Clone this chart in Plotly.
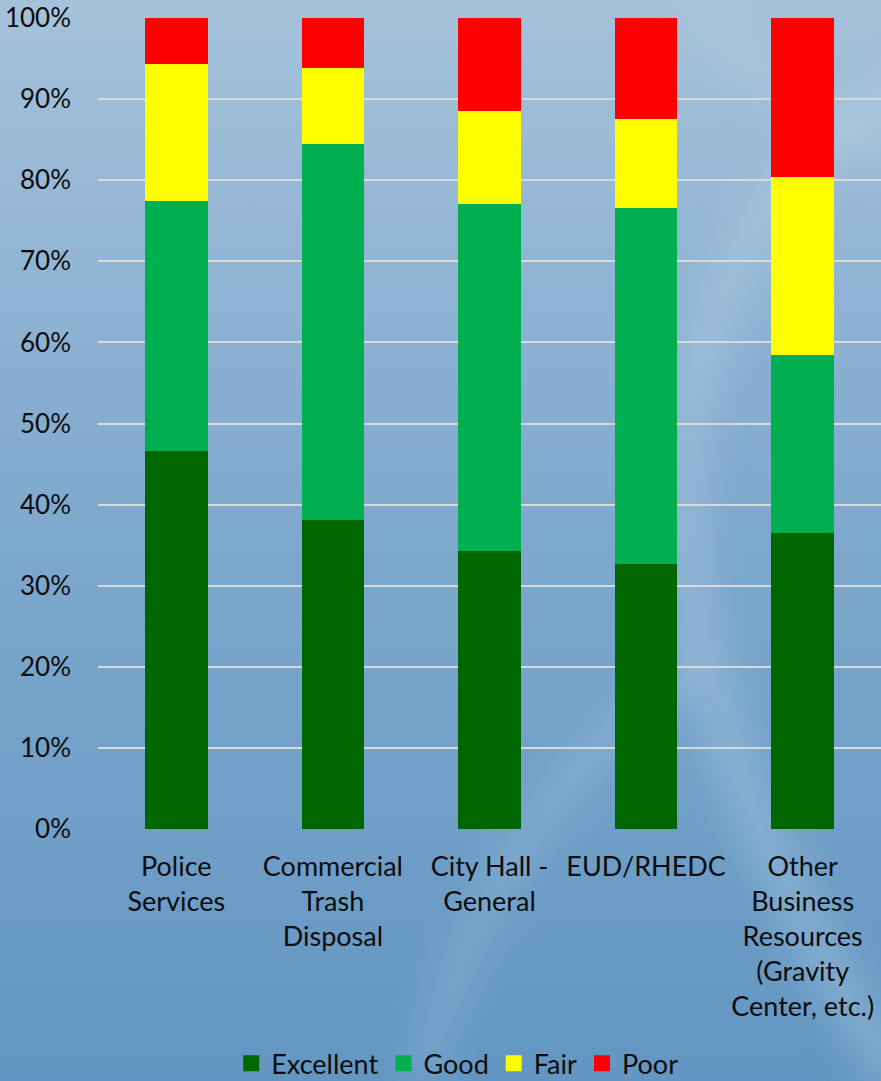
import base64
import plotly.graph_objects as go

# Survey ratings (percent of respondents) per city service
categories = [
    "Police<br>Services",
    "Commercial<br>Trash<br>Disposal",
    "City Hall -<br>General",
    "EUD/RHEDC",
    "Other<br>Business<br>Resources<br>(Gravity<br>Center, etc.)",
]
excellent = [46.6, 38.1, 34.3, 32.7, 36.5]
good = [30.8, 46.4, 42.8, 43.9, 21.9]
fair = [16.9, 9.3, 11.4, 10.9, 22.0]
poor = [5.7, 6.2, 11.5, 12.5, 19.6]

y_ticks = [0, 10, 20, 30, 40, 50, 60, 70, 80, 90, 100]
y_tick_labels = [f"{v}%" for v in y_ticks]

series = [
    ("Excellent", excellent, "#006600"),
    ("Good", good, "#00B050"),
    ("Fair", fair, "#FFFF00"),
    ("Poor", poor, "#FF0000"),
]

W, H = 881, 1081
M_L, M_R, M_T, M_B = 98, 0, 18, 252
FONT = "Lato, 'Open Sans', sans-serif"
FS = 27

# Slide-style blue background: vertical gradient with soft light swirls
svg = f"""<svg xmlns='http://www.w3.org/2000/svg' width='{W}' height='{H}' viewBox='0 0 {W} {H}'>
<defs>
<linearGradient id='g' x1='0' y1='0' x2='0' y2='1'>
<stop offset='0' stop-color='#A5C2DA'/>
<stop offset='0.45' stop-color='#80AACE'/>
<stop offset='1' stop-color='#6396C2'/>
</linearGradient>
<filter id='b' x='-50%' y='-50%' width='200%' height='200%'><feGaussianBlur stdDeviation='18'/></filter>
</defs>
<rect width='{W}' height='{H}' fill='url(#g)'/>
<g filter='url(#b)' fill='none' stroke='#B9D3E6'>
<path d='M 980 60 C 760 120 640 360 700 640 C 740 820 820 960 900 1081' stroke-width='40' stroke-opacity='0.35'/>
<path d='M 420 1081 C 470 900 560 760 700 660' stroke-width='30' stroke-opacity='0.25'/>
<path d='M 700 0 C 760 100 840 140 900 150' stroke-width='30' stroke-opacity='0.3'/>
</g>
</svg>"""
bg_uri = "data:image/svg+xml;base64," + base64.b64encode(svg.encode()).decode()

fig = go.Figure()
for name, vals, color in series:
    fig.add_trace(
        go.Bar(
            x=categories,
            y=vals,
            name=name,
            marker=dict(color=color, line=dict(width=0)),
            showlegend=False,
        )
    )
# Legend entries with larger square swatches
for name, vals, color in series:
    fig.add_trace(
        go.Scatter(
            x=[None],
            y=[None],
            mode="markers",
            name=name,
            marker=dict(symbol="square", size=16, color=color),
            showlegend=True,
            hoverinfo="skip",
        )
    )

pw = W - M_L - M_R
ph = H - M_T - M_B
fig.add_layout_image(
    dict(
        source=bg_uri,
        xref="paper",
        yref="paper",
        x=-M_L / pw,
        y=1 + M_T / ph,
        sizex=W / pw,
        sizey=H / ph,
        xanchor="left",
        yanchor="top",
        sizing="stretch",
        layer="below",
    )
)

fig.update_layout(
    width=W,
    height=H,
    margin=dict(l=M_L, r=M_R, t=M_T, b=M_B),
    barmode="stack",
    bargap=0.6,
    paper_bgcolor="#7FA8CC",
    plot_bgcolor="rgba(0,0,0,0)",
    font=dict(family=FONT, size=FS, color="#0D0D0D"),
    showlegend=True,
    legend=dict(
        orientation="h",
        xref="container",
        yref="container",
        x=0.519,
        y=0.016,
        xanchor="center",
        yanchor="middle",
        font=dict(size=FS),
        itemwidth=30,
        traceorder="normal",
        bgcolor="rgba(0,0,0,0)",
    ),
    xaxis=dict(
        showgrid=False,
        showline=False,
        ticks="",
        ticklabelstandoff=19,
        tickfont=dict(size=FS),
    ),
    yaxis=dict(
        range=[0, 100],
        tickmode="array",
        tickvals=y_ticks,
        ticktext=y_tick_labels,
        showgrid=True,
        gridcolor="#D9D9D9",
        gridwidth=2,
        zeroline=False,
        showline=False,
        ticks="",
        ticklabelstandoff=26,
        tickfont=dict(size=26),
    ),
)

fig.write_html("out.html")
